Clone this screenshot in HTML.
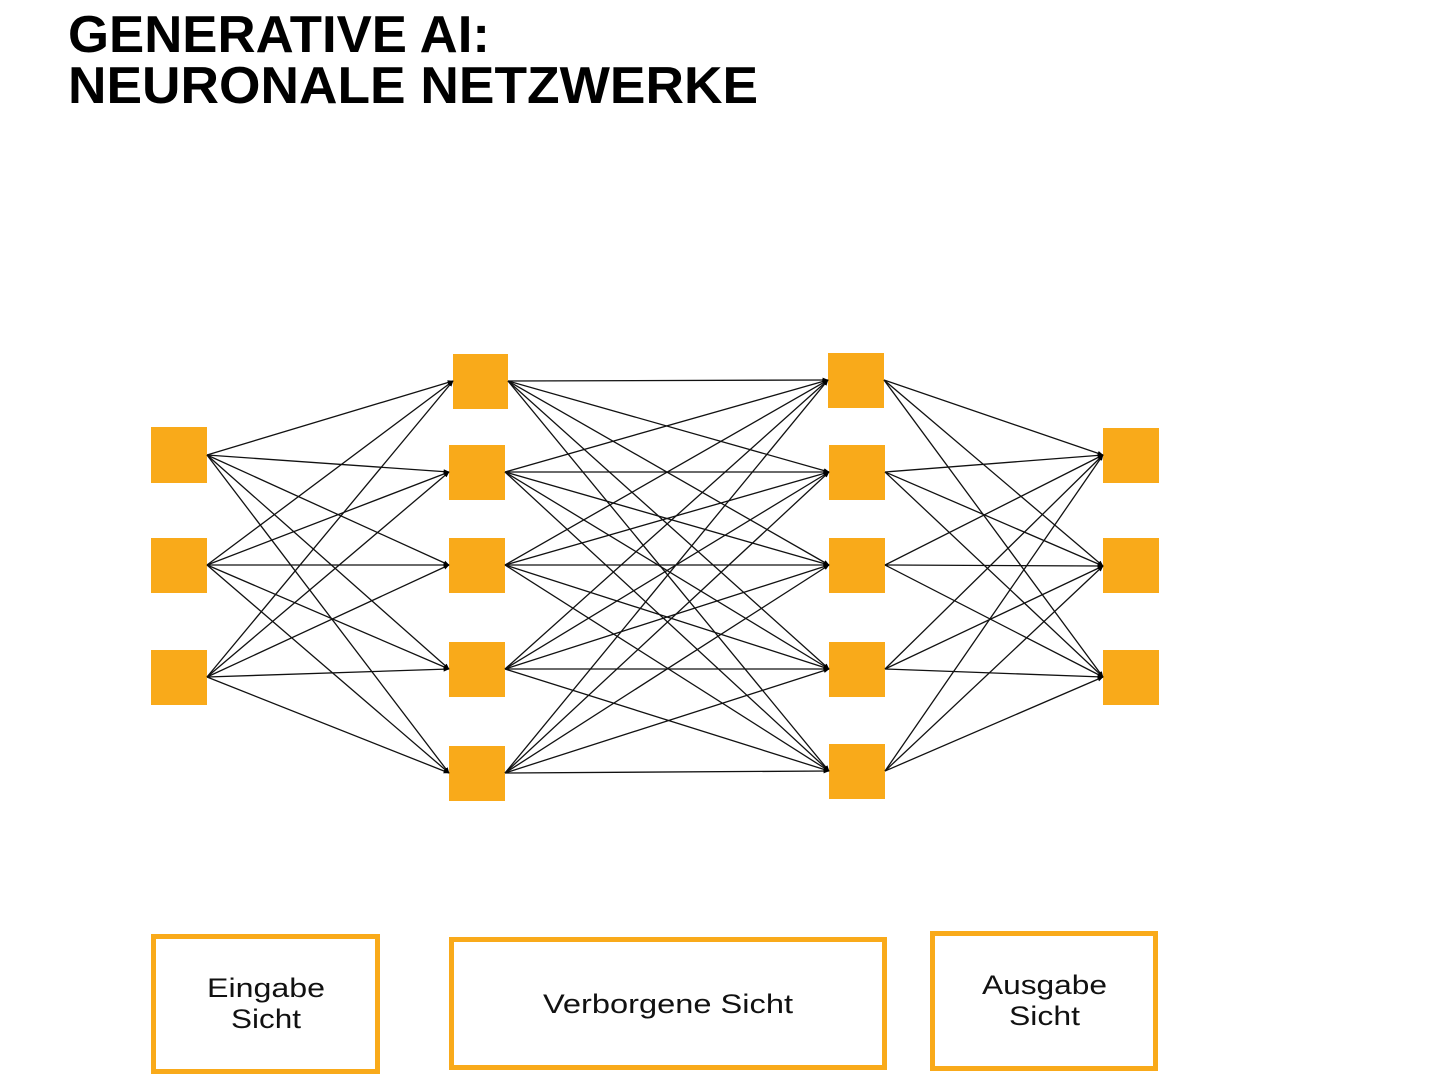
<!DOCTYPE html>
<html><head><meta charset="utf-8"><style>html,body{margin:0;padding:0;background:#fff}svg{display:block}</style></head>
<body>
<svg width="1440" height="1080" viewBox="0 0 1440 1080" xmlns="http://www.w3.org/2000/svg">
<defs><marker id="a" viewBox="0 0 10 10" refX="9" refY="5" markerWidth="6" markerHeight="6" orient="auto" markerUnits="userSpaceOnUse"><path d="M0,1 L10,5 L0,9 z" fill="#000"/></marker></defs>
<g font-family="Liberation Sans, sans-serif" font-weight="bold" font-size="52" fill="#000">
<text x="68" y="52" textLength="422" lengthAdjust="spacingAndGlyphs">GENERATIVE AI:</text>
<text x="68" y="103" textLength="690" lengthAdjust="spacingAndGlyphs">NEURONALE NETZWERKE</text>
</g>
<g stroke="#111" stroke-width="1.3" marker-end="url(#a)" id="edges"></g>
<g fill="#F9AA1A">
<rect x="151" y="427" width="56" height="56"/><rect x="151" y="538" width="56" height="55"/><rect x="151" y="650" width="56" height="55"/>
<rect x="453" y="354" width="55" height="55"/><rect x="449" y="445" width="56" height="55"/><rect x="449" y="538" width="56" height="55"/><rect x="449" y="642" width="56" height="55"/><rect x="449" y="746" width="56" height="55"/>
<rect x="828" y="353" width="56" height="55"/><rect x="829" y="445" width="56" height="55"/><rect x="829" y="538" width="56" height="55"/><rect x="829" y="642" width="56" height="55"/><rect x="829" y="744" width="56" height="55"/>
<rect x="1103" y="428" width="56" height="55"/><rect x="1103" y="538" width="56" height="55"/><rect x="1103" y="650" width="56" height="55"/>
</g>
<g fill="none" stroke="#F9AA1A" stroke-width="5">
<rect x="153.5" y="936.5" width="224" height="135"/>
<rect x="451.5" y="939.5" width="433" height="128"/>
<rect x="932.5" y="933.5" width="223" height="135"/>
</g>
<g font-family="Liberation Sans, sans-serif" font-size="27" fill="#111">
<text x="207" y="997" textLength="118" lengthAdjust="spacingAndGlyphs">Eingabe</text>
<text x="231" y="1028" textLength="70" lengthAdjust="spacingAndGlyphs">Sicht</text>
<text x="543" y="1013" textLength="250" lengthAdjust="spacingAndGlyphs">Verborgene Sicht</text>
<text x="982" y="994" textLength="125" lengthAdjust="spacingAndGlyphs">Ausgabe</text>
<text x="1009" y="1025" textLength="71" lengthAdjust="spacingAndGlyphs">Sicht</text>
</g>
<g stroke="#111" stroke-width="1.3" marker-end="url(#a)">
<line x1="207" y1="455" x2="453" y2="381"/><line x1="207" y1="455" x2="449" y2="472"/><line x1="207" y1="455" x2="449" y2="565"/><line x1="207" y1="455" x2="449" y2="669"/><line x1="207" y1="455" x2="449" y2="773"/>
<line x1="207" y1="565" x2="453" y2="381"/><line x1="207" y1="565" x2="449" y2="472"/><line x1="207" y1="565" x2="449" y2="565"/><line x1="207" y1="565" x2="449" y2="669"/><line x1="207" y1="565" x2="449" y2="773"/>
<line x1="207" y1="677" x2="453" y2="381"/><line x1="207" y1="677" x2="449" y2="472"/><line x1="207" y1="677" x2="449" y2="565"/><line x1="207" y1="677" x2="449" y2="669"/><line x1="207" y1="677" x2="449" y2="773"/>

<line x1="508" y1="381" x2="828" y2="380"/><line x1="508" y1="381" x2="829" y2="472"/><line x1="508" y1="381" x2="829" y2="565"/><line x1="508" y1="381" x2="829" y2="669"/><line x1="508" y1="381" x2="829" y2="771"/>
<line x1="505" y1="472" x2="828" y2="380"/><line x1="505" y1="472" x2="829" y2="472"/><line x1="505" y1="472" x2="829" y2="565"/><line x1="505" y1="472" x2="829" y2="669"/><line x1="505" y1="472" x2="829" y2="771"/>
<line x1="505" y1="565" x2="828" y2="380"/><line x1="505" y1="565" x2="829" y2="472"/><line x1="505" y1="565" x2="829" y2="565"/><line x1="505" y1="565" x2="829" y2="669"/><line x1="505" y1="565" x2="829" y2="771"/>
<line x1="505" y1="669" x2="828" y2="380"/><line x1="505" y1="669" x2="829" y2="472"/><line x1="505" y1="669" x2="829" y2="565"/><line x1="505" y1="669" x2="829" y2="669"/><line x1="505" y1="669" x2="829" y2="771"/>
<line x1="505" y1="773" x2="828" y2="380"/><line x1="505" y1="773" x2="829" y2="472"/><line x1="505" y1="773" x2="829" y2="565"/><line x1="505" y1="773" x2="829" y2="669"/><line x1="505" y1="773" x2="829" y2="771"/>

<line x1="884" y1="380" x2="1103" y2="455"/><line x1="884" y1="380" x2="1103" y2="566"/><line x1="884" y1="380" x2="1103" y2="677"/>
<line x1="885" y1="472" x2="1103" y2="455"/><line x1="885" y1="472" x2="1103" y2="566"/><line x1="885" y1="472" x2="1103" y2="677"/>
<line x1="885" y1="565" x2="1103" y2="455"/><line x1="885" y1="565" x2="1103" y2="566"/><line x1="885" y1="565" x2="1103" y2="677"/>
<line x1="885" y1="669" x2="1103" y2="455"/><line x1="885" y1="669" x2="1103" y2="566"/><line x1="885" y1="669" x2="1103" y2="677"/>
<line x1="885" y1="771" x2="1103" y2="455"/><line x1="885" y1="771" x2="1103" y2="566"/><line x1="885" y1="771" x2="1103" y2="677"/>
</g>
</svg>
</body></html>
